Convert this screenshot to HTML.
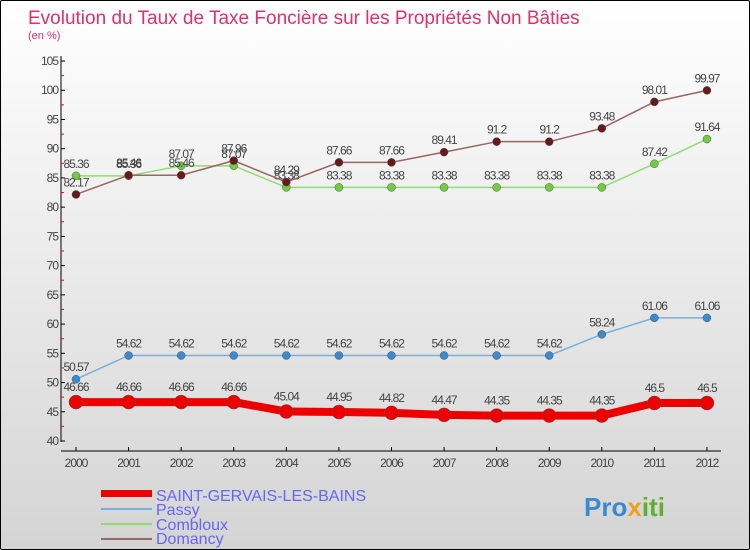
<!DOCTYPE html>
<html><head><meta charset="utf-8"><style>
body{margin:0}
#c{width:750px;height:550px;position:relative;overflow:hidden;box-sizing:border-box;border:1px solid #000;border-radius:2px;background:linear-gradient(#ffffff,#d4d4d4);font-family:"Liberation Sans",sans-serif}
svg text{font-family:"Liberation Sans",sans-serif}
</style></head><body>
<div id="c">
<svg width="750" height="550" id="s">
<text x="27" y="23" font-size="19" fill="#e0306a">Evolution du Taux de Taxe Foncière sur les Propriétés Non Bâties</text>
<text x="27" y="38" font-size="11" fill="#e0306a">(en %)</text>
<g id="g"></g>
<text x="155" y="500" font-size="16" fill="#6666ee">SAINT-GERVAIS-LES-BAINS</text>
<text x="155" y="514" font-size="16" fill="#6666ee">Passy</text>
<text x="155" y="529" font-size="16" fill="#6666ee">Combloux</text>
<text x="155" y="543" font-size="16" fill="#6666ee">Domancy</text>
<rect x="100" y="489" width="51" height="7" fill="#e00"/>
<rect x="100" y="507" width="51" height="2" fill="#7ab0d8"/>
<rect x="100" y="522" width="51" height="2" fill="#90dd70"/>
<rect x="100" y="537" width="51" height="2" fill="#996666"/>
<text x="583" y="515" font-size="26" font-weight="bold" fill="#3a8ad0">Pro<tspan fill="#f0a020">x</tspan><tspan fill="#60b030">iti</tspan></text>
</svg>
</div>
<script>
const years=[2000,2001,2002,2003,2004,2005,2006,2007,2008,2009,2010,2011,2012];
const saint=[46.66,46.66,46.66,46.66,45.04,44.95,44.82,44.47,44.35,44.35,44.35,46.5,46.5];
const passy=[50.57,54.62,54.62,54.62,54.62,54.62,54.62,54.62,54.62,54.62,58.24,61.06,61.06];
const combloux=[85.36,85.36,87.07,87.07,83.38,83.38,83.38,83.38,83.38,83.38,83.38,87.42,91.64];
const domancy=[82.17,85.46,85.46,87.96,84.29,87.66,87.66,89.41,91.2,91.2,93.48,98.01,99.97];
const yTicks=[40,45,50,55,60,65,70,75,80,85,90,95,100,105];
const NS='http://www.w3.org/2000/svg';
const g=document.getElementById('g');
const X=i=>75+i*52.58;
const Y=v=>60+(105-v)*380/65;
function mk(t,a){const e=document.createElementNS(NS,t);for(const k in a)e.setAttribute(k,a[k]);g.appendChild(e);return e;}
let e=mk('line',{x1:60,y1:55,x2:60,y2:441,stroke:'#000'});


e=mk('line',{x1:60,y1:450,x2:720,y2:450,stroke:'#000'});


yTicks.forEach(v=>{
 let t=mk('line',{x1:60,x2:64,y1:Y(v),y2:Y(v),stroke:'#000'});
 
 
 if(v<105){let m=mk('line',{x1:60,x2:63,y1:Y(v+2.5),y2:Y(v+2.5),stroke:'#f00'});
 
 }
 let l=mk('text',{x:57,y:Y(v)+4,'font-size':12,fill:'#444','text-anchor':'end','letter-spacing':'-1'});
 l.textContent=v;
 
 
});
years.forEach((y,i)=>{
 let t=mk('line',{x1:X(i),x2:X(i),y1:446,y2:450,stroke:'#000'});
 
 
 let l=mk('text',{x:X(i),y:466,'font-size':12,fill:'#444','text-anchor':'middle','letter-spacing':'-1'});
 l.textContent=y;
 
 
});
function series(vals,name,col,fill,w,r,lblDy){
 const p=mk('polyline',{points:vals.map((v,i)=>X(i)+','+Y(v)).join(' '),fill:'none',stroke:col,'stroke-width':w,'stroke-linejoin':'round'});
 
 
 vals.forEach((v,i)=>{
  const c=mk('circle',{cx:X(i),cy:Y(v),r:r,fill:fill,stroke:'#555','stroke-width':0.5});
  
  
  const t=mk('text',{x:X(i),y:Y(v)+lblDy,'font-size':12,fill:'#444','text-anchor':'middle','letter-spacing':'-1'});
  t.textContent=v;
  
  
 });
}
series(combloux,'combloux','#90dd70','#70cc40',1.5,4,-8);
series(domancy,'domancy','#996666','#661a1a',1.5,4,-8);
series(passy,'passy','#7ab0d8','#3a8ad0',1.5,4,-8);
series(saint,'saint-gervais','#e00','#e00',8,7,-11);
</script>
</body></html>
